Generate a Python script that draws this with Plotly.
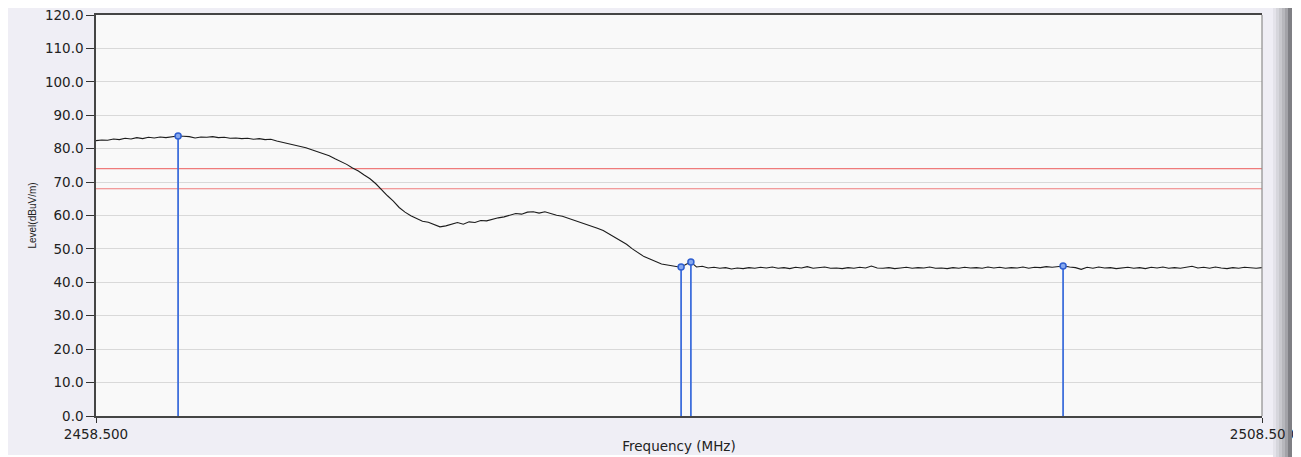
import plotly.graph_objects as go

# ---------------- data ----------------
freq_start = 2458.5      # MHz, first sweep point
freq_step = 0.25         # MHz between sweep points

level = [
    82.4, 82.6, 82.5, 82.9, 82.7, 83.1, 82.9, 83.3, 83.0, 83.4,
    83.2, 83.5, 83.3, 83.6, 83.8, 83.7, 83.6, 83.2, 83.5, 83.4,
    83.6, 83.3, 83.4, 83.1, 83.2, 83.0, 83.1, 82.8, 83.0, 82.7,
    82.8, 82.3, 81.9, 81.6, 81.1, 80.7, 80.3, 79.7, 79.1, 78.4,
    77.9, 77.0, 76.2, 75.3, 74.2, 73.3, 72.1, 71.0, 69.5, 67.6,
    65.9, 64.3, 62.4, 61.0, 59.9, 59.1, 58.3, 58.0, 57.2, 56.6,
    56.9, 57.3, 57.9, 57.4, 58.1, 57.9, 58.5, 58.4, 58.9, 59.3,
    59.6, 60.0, 60.6, 60.4, 61.0, 61.1, 60.7, 61.1, 60.5, 60.1,
    59.8, 59.2, 58.8, 58.2, 57.6, 57.0, 56.2, 55.5, 54.5, 53.6,
    52.5, 51.4, 50.0, 48.8, 47.7, 47.0, 46.2, 45.5, 45.2, 44.8,
    44.6, 45.2, 46.1, 44.6, 44.8,
    44.3, 44.5, 44.2, 44.4, 44.0, 44.3, 44.1, 44.4, 44.2, 44.5,
    44.3, 44.6, 44.2, 44.4, 44.1, 44.5, 44.3, 44.7, 44.2, 44.4,
    44.6, 44.2, 44.3, 44.1, 44.4, 44.2, 44.5, 44.3, 44.9, 44.3,
    44.2, 44.4, 44.1, 44.3, 44.5, 44.2, 44.4, 44.3, 44.6, 44.2,
    44.3, 44.1, 44.4, 44.2, 44.5, 44.3, 44.4, 44.2, 44.6, 44.3,
    44.5, 44.2, 44.4, 44.3, 44.6, 44.2, 44.5, 44.4, 44.7, 44.5,
    44.6, 44.9, 44.6, 44.4, 43.9, 44.5, 44.2, 44.6, 44.3, 44.4,
    44.1, 44.3, 44.5, 44.2, 44.4, 44.1, 44.5, 44.3, 44.6, 44.2,
    44.4, 44.2, 44.6, 44.8, 44.3, 44.5, 44.2, 44.6, 44.3, 44.1,
    44.4, 44.2, 44.5, 44.3, 44.2, 44.4,
]
freq = [freq_start + i * freq_step for i in range(len(level))]

marker_freq = [2462.02, 2483.59, 2484.01, 2499.97]
marker_level = [83.8, 44.6, 46.1, 44.9]

limit_levels = [74.0, 68.0]

x_range = [2458.5, 2508.5]
x_tickvals = [2458.5, 2508.5]
x_ticktext = ["2458.500", "2508.500"]
y_tickvals = [0, 10, 20, 30, 40, 50, 60, 70, 80, 90, 100, 110, 120]
y_ticktext = ["%.1f" % v for v in y_tickvals]

# ---------------- figure ----------------
OFF = 8                      # page body margin
W, H = 1301 - OFF, 457 - OFF
# target plot box in window pixels: left 96, right 1262, top 15, bottom 416
L, T = 96 - OFF, 15 - OFF
R, B = 1301 - 1262, 457 - 416
PLEFT, PRIGHT, PTOP, PBOT = 96, 1262, 15, 416
PW, PH = PRIGHT - PLEFT, PBOT - PTOP


def px(x):
    return (x - PLEFT) / PW


def py(y):
    return (PBOT - y) / PH


fig = go.Figure()

# limit lines
for lv in limit_levels:
    fig.add_trace(go.Scatter(x=x_range, y=[lv, lv], mode="lines",
                             line=dict(color="#ef7b7b", width=1.2),
                             hoverinfo="skip", showlegend=False))

# measured trace
fig.add_trace(go.Scatter(x=freq, y=level, mode="lines",
                         line=dict(color="#1c1c1c", width=1.1),
                         showlegend=False))

# marker stems
sx, sy = [], []
for f, v in zip(marker_freq, marker_level):
    sx += [f, f, None]
    sy += [0, v, None]
fig.add_trace(go.Scatter(x=sx, y=sy, mode="lines",
                         line=dict(color="#3f6fdc", width=1.8),
                         hoverinfo="skip", showlegend=False))
fig.add_trace(go.Scatter(x=marker_freq, y=marker_level, mode="markers",
                         marker=dict(symbol="circle", size=6, color="#86a8ee",
                                     line=dict(color="#2f5fd0", width=1.5)),
                         showlegend=False))

shapes = [
    # lavender panel
    dict(type="rect", xref="paper", yref="paper", x0=px(7), x1=px(1276),
         y0=py(455), y1=py(7), fillcolor="#efeef5", line=dict(width=0), layer="below"),
    # plot area
    dict(type="rect", xref="paper", yref="paper", x0=0, x1=1, y0=0, y1=1,
         fillcolor="#f9f9f9", line=dict(width=0), layer="below"),
    # right border of plot
    dict(type="line", xref="paper", yref="paper", x0=1, x1=1, y0=0, y1=1,
         line=dict(color="#8c8c8c", width=1.2), layer="above"),
]
# right-hand scrollbar-like gradient strip
strip = [(1273, 1276, "#e4e3ea", "below"), (1276, 1279, "#d6d6dc", "below"),
         (1279, 1282, "#c8c8cd", "below"), (1282, 1285, "#b7b7bc", "below"),
         (1285, 1288, "#a3a3a8", "above"), (1288, 1292, "#7f7f84", "above")]
for a, b, c, lay in strip:
    shapes.append(dict(type="rect", xref="paper", yref="paper", x0=px(a), x1=px(b),
                       y0=py(460), y1=py(5), fillcolor=c, line=dict(width=0), layer=lay))

fig.update_layout(
    width=W, height=H, autosize=False,
    margin=dict(l=L, r=R, t=T, b=B, pad=0),
    paper_bgcolor="white", plot_bgcolor="#f9f9f9",
    shapes=shapes,
    font=dict(family="DejaVu Sans", color="#222222"),
    xaxis=dict(range=x_range, tickmode="array", tickvals=x_tickvals, ticktext=x_ticktext,
               ticks="outside", ticklen=5, tickwidth=1, tickcolor="#333333",
               tickfont=dict(family="DejaVu Sans", size=13.5, color="#222222"),
               ticklabeloverflow="allow",
               showgrid=False, zeroline=False, showline=True, mirror=True,
               linecolor="#454545", linewidth=1.5,
               title=dict(text="Frequency (MHz)", standoff=1,
                          font=dict(family="DejaVu Sans", size=13.5, color="#222222")),
               automargin=False),
    yaxis=dict(range=[0, 120], tickmode="array", tickvals=y_tickvals, ticktext=y_ticktext,
               ticks="outside", ticklen=8, tickwidth=1.2, tickcolor="#333333",
               tickfont=dict(family="DejaVu Sans", size=13.5, color="#222222"),
               ticklabeloverflow="allow",
               showgrid=True, gridcolor="#d9d9d9", gridwidth=1.2,
               zeroline=False, showline=True, linecolor="#454545", linewidth=1.5,
               title=dict(text="Level(dBuV/m)", standoff=6,
                          font=dict(family="Liberation Sans", size=10, color="#222222")),
               automargin=False),
)

fig.write_html("out.html")
